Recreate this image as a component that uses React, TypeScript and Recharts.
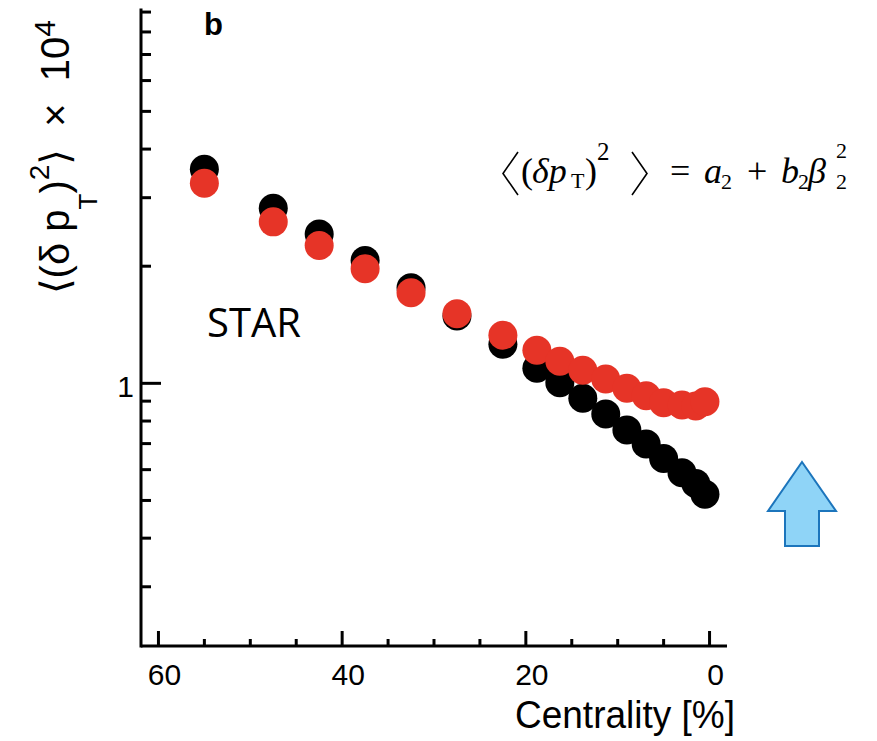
import React from 'react';
import { ScatterChart, Scatter, XAxis, YAxis } from 'recharts';

// centrality bins (%) and <(dpT)^2> x 10^4
const centrality = [55, 47.5, 42.5, 37.5, 32.5, 27.5, 22.5, 18.8, 16.3, 13.8, 11.3, 9, 6.9, 5, 3, 1.5, 0.5];
const blackValues = [3.55, 2.82, 2.42, 2.07, 1.76, 1.49, 1.26, 1.093, 1.004, 0.915, 0.834, 0.759, 0.698, 0.641, 0.589, 0.553, 0.519];
const redValues = [3.27, 2.6, 2.26, 1.97, 1.71, 1.51, 1.33, 1.216, 1.139, 1.08, 1.026, 0.972, 0.929, 0.892, 0.88, 0.875, 0.897];

const xTicks = [0, 5, 10, 15, 20, 25, 30, 35, 40, 45, 50, 55, 60];
const yTicks = [0.3, 0.4, 0.5, 0.6, 0.7, 0.8, 0.9, 1, 2, 3, 4, 5, 6, 7, 8, 9];

const blackData = centrality.map((c, i) => ({ c, v: blackValues[i] }));
const redData = centrality.map((c, i) => ({ c, v: redValues[i] }));

const SANS = 'Liberation Sans, Arial, Helvetica, sans-serif';
const SERIF = 'Liberation Serif, Times New Roman, serif';

const XTick = (props: any) => {
  const { x, y, payload } = props;
  const major = payload.value % 20 === 0;
  return (
    <g>
      <line x1={x} x2={x} y1={y} y2={y - (major ? 15 : 7)} stroke="#000" strokeWidth={3} />
      {major && (
        <text x={x + 6} y={y + 39} textAnchor="middle" fontSize={30} fontFamily={SANS} fill="#000">
          {payload.value}
        </text>
      )}
    </g>
  );
};

const YTick = (props: any) => {
  const { x, y, payload } = props;
  const major = payload.value === 1;
  return (
    <g>
      <line x1={x} x2={x + (major ? 20 : 10)} y1={y} y2={y} stroke="#000" strokeWidth={3} />
      {major && (
        <text x={x - 7} y={y + 14} textAnchor="end" fontSize={30} fontFamily={SANS} fill="#000">
          1
        </text>
      )}
    </g>
  );
};

const dot = (color: string) => (props: any) => (
  <circle cx={props.cx} cy={props.cy} r={14.5} fill={color} />
);

const App: React.FC = () => {
  return (
    <div style={{ position: 'absolute', left: 0, top: 0, width: 877, height: 741, background: '#fff' }}>
      <ScatterChart width={877} height={741} margin={{ top: 10, right: 150, bottom: 0, left: 0 }}>
        <XAxis
          type="number"
          dataKey="c"
          domain={[-1.9, 61.9]}
          reversed
          allowDataOverflow
          ticks={xTicks}
          interval={0}
          height={95}
          tickSize={0}
          tickMargin={0}
          tickLine={false}
          tick={<XTick />}
          axisLine={{ stroke: '#000', strokeWidth: 3 }}
        />
        <YAxis
          type="number"
          dataKey="v"
          scale="log"
          domain={[0.2113, 9.11]}
          allowDataOverflow
          ticks={yTicks}
          interval={0}
          width={141}
          tickSize={0}
          tickMargin={0}
          tickLine={false}
          tick={<YTick />}
          axisLine={{ stroke: '#000', strokeWidth: 3, strokeLinecap: 'square' }}
        />
        <Scatter data={blackData} fill="#000" shape={dot('#000')} isAnimationActive={false} />
        <Scatter data={redData} fill="#e63427" shape={dot('#e63427')} isAnimationActive={false} />
      </ScatterChart>

      <svg
        width={877}
        height={741}
        style={{ position: 'absolute', left: 0, top: 0, pointerEvents: 'none' }}
      >
        {/* y axis title */}
        <text transform="translate(69,157) rotate(-90)" textAnchor="middle" fontFamily={SANS} fontSize={40} fill="#000">
          <tspan fontFamily="DejaVu Sans">⟨</tspan>
          <tspan>(δ p</tspan>
          <tspan fontSize={26} dy={28}>T</tspan>
          <tspan dy={-28}>)</tspan>
          <tspan fontSize={28} dy={-20}>2</tspan>
          <tspan dy={20} fontFamily="DejaVu Sans">⟩</tspan>
          <tspan>{'\u00A0\u00A0×\u00A0\u00A010'}</tspan>
          <tspan fontSize={30} dy={-14}>4</tspan>
        </text>

        {/* panel letter */}
        <text x={204} y={35} fontFamily={SANS} fontWeight="bold" fontSize={31} fill="#000">b</text>

        {/* experiment */}
        <text x={207} y={337} fontFamily="Open Sans, Noto Sans, sans-serif" fontSize={40} fill="#000">STAR</text>

        {/* x axis title */}
        <text x={515} y={728} fontFamily={SANS} fontSize={38} textLength={220} lengthAdjust="spacingAndGlyphs" fill="#000">
          Centrality [%]
        </text>

        {/* formula: <(dpT)^2> = a2 + b2 beta2^2 */}
        <polyline points="518,152 503,173.5 518,195" fill="none" stroke="#000" strokeWidth={1.6} />
        <polyline points="632,152 647,173.5 632,195" fill="none" stroke="#000" strokeWidth={1.6} />
        <g fontFamily={SERIF} fill="#000">
          <text x={521} y={183} fontSize={36}>(</text>
          <text x={532} y={183} fontSize={36} fontStyle="italic">δp</text>
          <text x={571} y={188} fontSize={22}>T</text>
          <text x={585} y={183} fontSize={36}>)</text>
          <text x={597} y={160} fontSize={25}>2</text>
          <text x={670} y={183} fontSize={36}>=</text>
          <text x={704} y={183} fontSize={36} fontStyle="italic">a</text>
          <text x={721} y={189} fontSize={22}>2</text>
          <text x={747} y={183} fontSize={36}>+</text>
          <text x={781} y={183} fontSize={36} fontStyle="italic">b</text>
          <text x={798} y={189} fontSize={22}>2</text>
          <text x={808} y={183} fontSize={36} fontStyle="italic">β</text>
          <text x={836} y={158} fontSize={22}>2</text>
          <text x={836} y={189} fontSize={22}>2</text>
        </g>

        {/* arrow */}
        <polygon
          points="802,462 836,511 819,511 819,546 785,546 785,511 768,511"
          fill="#8fd4f7"
          stroke="#1c75bc"
          strokeWidth={2}
        />
      </svg>
    </div>
  );
};

export default App;
